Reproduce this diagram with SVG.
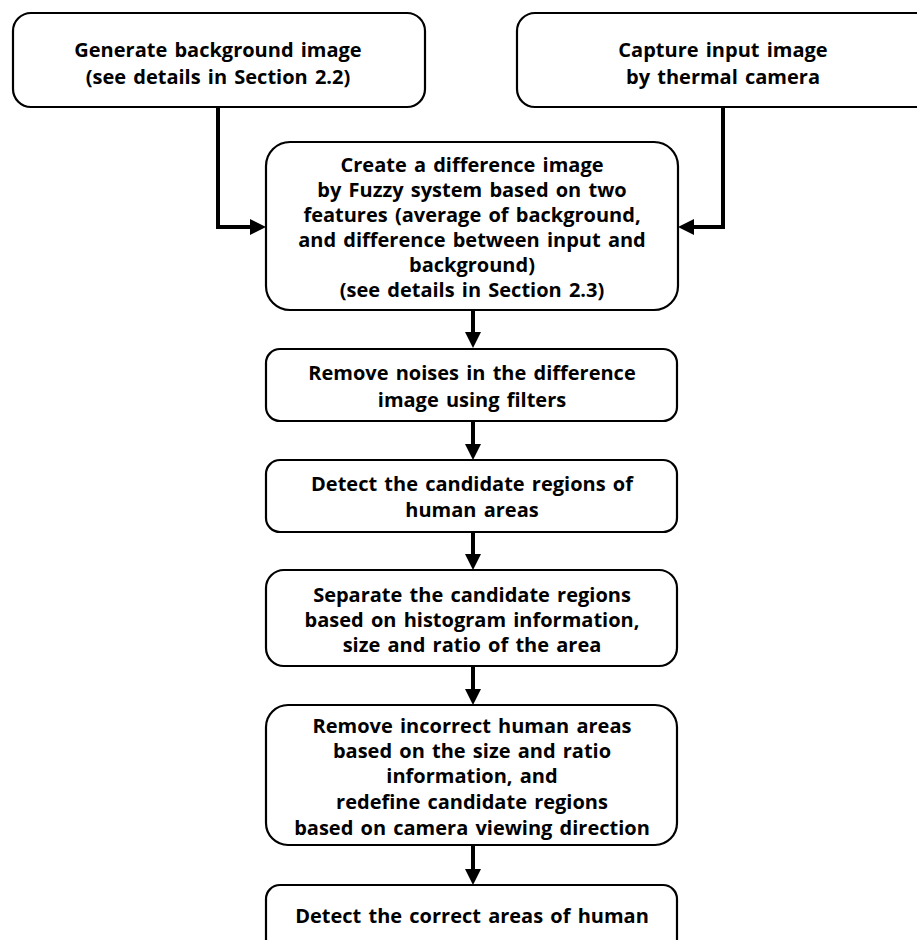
<svg xmlns="http://www.w3.org/2000/svg" width="917" height="940" viewBox="0 0 917 940">
<style>
.box{fill:#fff;stroke:#000;stroke-width:2.2}
.t{font-family:"Open Sans","Noto Sans","DejaVu Sans",sans-serif;font-weight:bold;font-size:20px;word-spacing:2px;text-anchor:middle;fill:#000}
.c{fill:none;stroke:#000;stroke-width:4}
</style>
<defs>
<marker id="ah" markerUnits="userSpaceOnUse" markerWidth="16" markerHeight="16" viewBox="0 0 16 16" refX="0" refY="8" orient="auto">
<path d="M0,0 L16,8 L0,16 Z" fill="#000"/>
</marker>
</defs>
<rect width="917" height="940" fill="#fff"/>
<g id="connectors">
<path class="c" d="M218,107 V227 H250" marker-end="url(#ah)"/>
<path class="c" d="M723,107 V227 H694" marker-end="url(#ah)"/>
<path class="c" d="M473,310 V332" marker-end="url(#ah)"/>
<path class="c" d="M473,421 V444" marker-end="url(#ah)"/>
<path class="c" d="M473,532 V554" marker-end="url(#ah)"/>
<path class="c" d="M473,666 V689" marker-end="url(#ah)"/>
<path class="c" d="M473,845 V869" marker-end="url(#ah)"/>
</g>
<g id="n1">
<rect class="box" x="13" y="13" width="412" height="94" rx="18"/>
<text class="t" x="218" y="57">Generate background image</text>
<text class="t" x="218" y="84">(see details in Section 2.2)</text>
</g>
<g id="n2">
<rect class="box" x="517" y="13" width="420" height="94" rx="18"/>
<text class="t" x="723" y="57">Capture input image</text>
<text class="t" x="723" y="84">by thermal camera</text>
</g>
<g id="n3">
<rect class="box" x="266" y="142" width="412" height="168" rx="24"/>
<text class="t" x="472" y="172">Create a difference image</text>
<text class="t" x="472" y="197">by Fuzzy system based on two</text>
<text class="t" x="472" y="222">features (average of background,</text>
<text class="t" x="472" y="247">and difference between input and</text>
<text class="t" x="472" y="272">background)</text>
<text class="t" x="472" y="297">(see details in Section 2.3)</text>
</g>
<g id="n4">
<rect class="box" x="266" y="349" width="411" height="72" rx="14"/>
<text class="t" x="472" y="380">Remove noises in the difference</text>
<text class="t" x="472" y="407">image using filters</text>
</g>
<g id="n5">
<rect class="box" x="266" y="460" width="411" height="72" rx="14"/>
<text class="t" x="472" y="491">Detect the candidate regions of</text>
<text class="t" x="472" y="517">human areas</text>
</g>
<g id="n6">
<rect class="box" x="266" y="570" width="411" height="96" rx="18"/>
<text class="t" x="472" y="602">Separate the candidate regions</text>
<text class="t" x="472" y="627">based on histogram information,</text>
<text class="t" x="472" y="652">size and ratio of the area</text>
</g>
<g id="n7">
<rect class="box" x="266" y="705" width="411" height="140" rx="22"/>
<text class="t" x="472" y="733">Remove incorrect human areas</text>
<text class="t" x="472" y="758">based on the size and ratio</text>
<text class="t" x="472" y="783">information, and</text>
<text class="t" x="472" y="809">redefine candidate regions</text>
<text class="t" x="472" y="835">based on camera viewing direction</text>
</g>
<g id="n8">
<rect class="box" x="266" y="885" width="411" height="80" rx="14"/>
<text class="t" x="472" y="923">Detect the correct areas of human</text>
</g>
</svg>
